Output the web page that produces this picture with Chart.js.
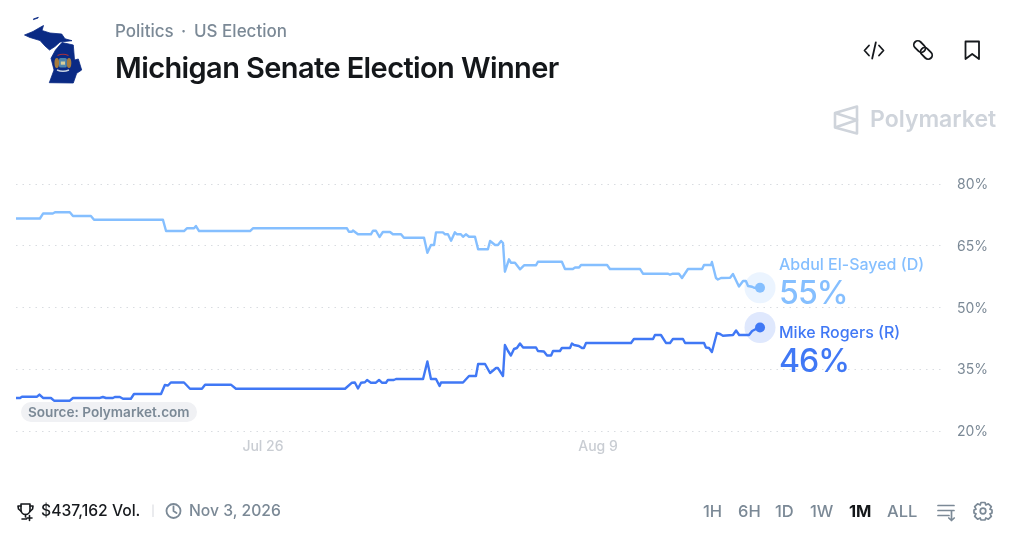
<!DOCTYPE html>
<html>
<head>
<meta charset="utf-8">
<title>Michigan Senate Election Winner</title>
<script src="https://cdn.jsdelivr.net/npm/chart.js@4"></script>
<style>
    html, body { margin: 0; padding: 0; background: #fff; overflow: hidden; }
    body { width: 1024px; height: 536px; position: relative; font-family: Inter, "Liberation Sans", sans-serif; }
    canvas, svg.overlay { position: absolute; left: 0; top: 0; }
    .txt { position: absolute; white-space: nowrap; line-height: 1; }
    .range { color: #7b8996; font-size: 16.5px; font-weight: 500; top: 503px; }
</style>
</head>
<body>
<canvas id="chart" width="1024" height="536"></canvas>

<svg class="overlay" width="1024" height="536" fill="none">
    <!-- Michigan -->
    <g fill="#0a2a84" stroke="#0a2a84" stroke-width="0.8" stroke-linejoin="round">
        <path d="M24.5 35 L33 31.5 L39 28 L43.5 25.5 L42 30.5 L50 33 L61.7 34 L65 38.8 L72 40.7 L60 42 L55 46.5 L49.5 50 L45 46 L40 40.5 L30 37.5 Z"/>
        <path d="M62 42.5 L73.3 45 L74.5 60 L78.3 59 L81.7 70 L76.7 73.3 L73.3 83 L49.3 82.7 L54 70 L51 58.3 L55.5 50 Z"/>
        <path d="M33.3 19 L38.3 17.3 L38 18 L33.5 19.6 Z"/>
    </g>
    <path stroke="#a8323f" stroke-width="1.1" d="M57.5 55.5 Q63 53 68.5 55.5"/>
    <ellipse cx="56.8" cy="63" rx="2.3" ry="5" fill="#a67c3d"/>
    <ellipse cx="69" cy="63" rx="2.3" ry="5" fill="#a67c3d"/>
    <rect x="59" y="58" width="7.8" height="9.5" rx="1.5" fill="#4f86ad"/>
    <rect x="60.8" y="61.5" width="4.2" height="3.2" fill="#d9cf9a"/>
    <path stroke="#c9d3e3" stroke-width="1.4" d="M57 70 Q63 72.5 69 70"/>

    <!-- header icons -->
    <g stroke="#16191d" stroke-width="1.8" stroke-linecap="round" stroke-linejoin="round">
        <path d="M869 45.5 L864.5 50.5 L869 55.5 M879 45.5 L883.5 50.5 L879 55.5 M875.8 42.5 L872.2 58.5"/>
        <rect x="-6.5" y="-4" width="13" height="8" rx="4" transform="translate(919.6 46.6) rotate(45)"/>
        <rect x="-6.5" y="-4" width="13" height="8" rx="4" transform="translate(926.4 53.4) rotate(45)"/>
        <path d="M965.5 59 L965.5 41.5 L979 41.5 L979 59 L972.2 54 Z"/>
    </g>

    <!-- Polymarket logo -->
    <g stroke="#cfd4db" stroke-width="2.6" stroke-linejoin="round">
        <path d="M857 106.5 L835 113 L835 127.5 L857 133.5 Z"/>
        <path d="M835 113 L857 120 L835 127.5"/>
    </g>

    <!-- footer icons -->
    <g stroke="#16191d" stroke-width="1.6" stroke-linecap="round" stroke-linejoin="round">
        <path d="M21 504 L30 504 L30 510 A4.5 4.5 0 0 1 21 510 Z"/>
        <path d="M21 506 L18 506 L18.5 509 L21.3 511.5 M30 506 L33 506 L32.6 509 L30 511.5"/>
        <path d="M25.5 514.5 L25.5 517 M22 519 L26.5 519 M29.5 515.5 L29.5 520.5 M27 518 L32 518"/>
    </g>
    <path stroke="#e3e5e8" stroke-width="1.5" d="M153 504.5 L153 517"/>
    <g stroke="#7b8996" stroke-width="1.8" stroke-linecap="round" stroke-linejoin="round">
        <circle cx="173.5" cy="511" r="7"/>
        <path d="M173.5 506.5 L173.5 511 L176.5 513"/>
    </g>
    <g stroke="#7b8996" stroke-width="1.7" stroke-linecap="round" stroke-linejoin="round">
        <path d="M938 505.5 L954 505.5 M938 510.5 L954 510.5 M938 515.5 L949 515.5 M951.5 510.5 L951.5 520.5 M948.8 518 L951.5 520.5 L954.2 518"/>
        <circle cx="983" cy="511" r="2.8"/>
        <path d="M981 502.5 L985 502.5 L985.8 505 L988.4 503.8 L991.3 506.6 L990 509.2 L992 510 L992 513 L990 513.8 L991.3 516.4 L988.4 519.2 L985.8 518 L985 520 L981 520 L980.2 518 L977.6 519.2 L974.7 516.4 L976 513.8 L974 513 L974 510 L976 509.2 L974.7 506.6 L977.6 503.8 L980.2 505 Z"/>
    </g>
</svg>

<div class="txt" style="left:115px;top:22.5px;font-size:17px;color:#7b8996;font-weight:500;">Politics</div>
<div class="txt" style="left:181px;top:22.5px;font-size:17px;color:#7b8996;font-weight:500;">·</div>
<div class="txt" style="left:194px;top:22.5px;font-size:17px;color:#7b8996;font-weight:500;">US Election</div>
<div class="txt" style="left:115px;top:53px;font-size:29px;letter-spacing:-0.6px;color:#14171a;font-weight:600;">Michigan Senate Election Winner</div>
<div class="txt" style="left:870px;top:108px;font-size:23px;color:#cfd4db;font-weight:600;">Polymarket</div>

<div class="txt" style="left:779px;top:255.5px;font-size:16px;color:#85bfff;font-weight:500;">Abdul El-Sayed (D)</div>
<div class="txt" style="left:779px;top:277px;font-size:32px;letter-spacing:-0.9px;color:#85bfff;font-weight:500;">55%</div>
<div class="txt" style="left:779px;top:323.5px;font-size:16px;color:#4078f5;font-weight:500;">Mike Rogers (R)</div>
<div class="txt" style="left:779px;top:345px;font-size:32px;letter-spacing:-0.9px;color:#4078f5;font-weight:500;">46%</div>

<div class="txt" style="left:21px;top:402px;height:20px;padding:0 7px;border-radius:10px;background:#f0f1f4;font-size:13.6px;line-height:20px;color:#7b8996;font-weight:600;">Source: Polymarket.com</div>

<div class="txt" style="left:41px;top:503px;font-size:15.7px;color:#16191d;font-weight:500;">$437,162 Vol.</div>
<div class="txt" style="left:189px;top:503px;font-size:15.7px;color:#7b8996;font-weight:500;">Nov 3, 2026</div>

<div class="txt range" style="left:703px;">1H</div>
<div class="txt range" style="left:738px;">6H</div>
<div class="txt range" style="left:775px;">1D</div>
<div class="txt range" style="left:810px;">1W</div>
<div class="txt range" style="left:849px;color:#14171a;font-weight:700;">1M</div>
<div class="txt range" style="left:887px;">ALL</div>

<script>
// days are counted from Jul 1 (Aug 9 = day 40)
const elSayedDays = [15.68, 16.68, 16.81, 17.22, 17.31, 17.93, 18.06, 18.81, 18.94, 21.82, 21.95, 22.70, 22.82, 23.12, 23.20, 23.33, 25.46, 25.58, 29.22, 29.51, 29.59, 29.72, 29.76, 29.97, 30.51, 30.60, 30.72, 30.87, 31.01, 31.31, 31.43, 31.77, 31.89, 32.73, 32.87, 33.02, 33.15, 33.23, 33.52, 33.61, 33.73, 33.86, 34.02, 34.11, 34.27, 34.36, 34.48, 34.61, 34.86, 34.99, 35.40, 35.49, 35.70, 35.82, 35.95, 36.03, 36.11, 36.28, 36.36, 36.53, 36.74, 36.91, 37.41, 37.49, 38.49, 38.62, 38.95, 39.04, 39.21, 39.29, 40.38, 40.50, 41.76, 41.88, 42.93, 43.01, 43.13, 43.38, 43.51, 43.76, 44.35, 44.43, 44.72, 44.76, 44.93, 45.01, 45.14, 45.52, 45.64, 45.89, 46.06, 46.18, 46.27, 46.44, 46.52, 46.77];
const elSayedPrices = [71.62, 71.62, 72.83, 72.83, 73.12, 73.12, 72.22, 72.22, 71.32, 71.32, 68.58, 68.58, 69.24, 69.24, 69.79, 68.58, 68.58, 69.24, 69.24, 69.24, 68.41, 68.41, 68.70, 67.78, 67.78, 68.65, 68.65, 67.12, 68.34, 68.34, 67.78, 67.78, 66.95, 66.95, 63.31, 65.18, 65.18, 68.26, 68.26, 67.78, 67.78, 66.22, 68.26, 67.78, 67.78, 67.19, 67.78, 67.19, 67.19, 64.14, 64.14, 66.15, 65.18, 65.18, 66.15, 65.67, 58.69, 61.71, 60.88, 60.88, 59.28, 60.25, 60.25, 61.12, 61.12, 59.35, 59.35, 59.71, 59.71, 60.32, 60.32, 59.35, 59.35, 58.21, 58.21, 57.96, 58.21, 58.21, 57.16, 59.35, 59.35, 60.32, 60.32, 61.05, 57.16, 56.80, 57.16, 57.24, 58.14, 55.10, 56.44, 56.44, 55.22, 55.05, 54.81, 54.81];

const rogersDays = [15.68, 15.85, 15.93, 16.56, 16.66, 16.81, 17.14, 17.27, 17.93, 18.06, 19.19, 19.31, 19.44, 19.73, 19.81, 20.02, 20.15, 20.48, 20.61, 21.74, 21.90, 22.03, 22.15, 22.70, 22.95, 23.45, 23.58, 24.66, 24.87, 29.43, 29.72, 29.84, 29.97, 30.10, 30.26, 30.35, 30.51, 30.72, 30.85, 30.97, 31.14, 31.22, 31.47, 31.56, 32.69, 32.87, 33.02, 33.23, 33.38, 33.44, 34.36, 34.61, 34.90, 34.99, 35.28, 35.49, 35.74, 35.82, 36.03, 36.11, 36.24, 36.36, 36.49, 36.61, 36.74, 36.87, 37.41, 37.49, 37.74, 37.87, 38.04, 38.12, 38.41, 38.49, 38.83, 38.91, 39.00, 39.20, 39.33, 39.41, 39.50, 41.38, 41.50, 42.30, 42.38, 42.63, 42.84, 43.01, 43.13, 43.55, 43.64, 44.43, 44.51, 44.64, 44.76, 44.97, 45.10, 45.22, 45.64, 45.77, 45.90, 46.31, 46.44, 46.60, 46.77];
const rogersPrices = [28.02, 28.02, 28.33, 28.33, 28.86, 28.02, 28.02, 27.36, 27.36, 28.02, 28.02, 28.26, 28.02, 28.02, 28.26, 28.26, 27.84, 27.84, 28.99, 28.99, 31.17, 31.05, 31.78, 31.78, 30.27, 30.27, 31.25, 31.25, 30.27, 30.27, 31.73, 31.78, 30.32, 31.73, 31.85, 32.39, 31.73, 31.73, 32.39, 31.73, 31.73, 32.39, 32.39, 32.63, 32.63, 36.88, 32.63, 32.63, 30.93, 31.78, 31.78, 33.36, 33.36, 36.27, 36.27, 34.09, 35.30, 35.30, 33.36, 40.89, 39.43, 38.34, 39.92, 40.16, 41.25, 40.28, 40.28, 39.43, 39.31, 38.34, 38.34, 39.43, 39.43, 40.16, 40.16, 41.25, 40.89, 40.65, 40.16, 40.16, 41.38, 41.38, 42.35, 42.35, 43.32, 43.32, 41.38, 41.38, 42.35, 42.35, 41.38, 41.38, 40.28, 40.16, 39.19, 43.80, 43.56, 43.15, 43.32, 44.41, 43.32, 43.32, 44.29, 44.78, 45.14];

const priceTicks = [20, 35, 50, 65, 80];
const dateTickDays = [26, 40];
const dateTickLabels = ["Jul 26", "Aug 9"];

const lightBlue = "#85bfff";
const blue = "#4078f5";
const gray = "#7b8996";

function toPoints(days, prices) {
    return days.map((d, i) => ({ x: d, y: prices[i] }));
}

const elSayedPoints = toPoints(elSayedDays, elSayedPrices);
const rogersPoints = toPoints(rogersDays, rogersPrices);

function lastPointRadius(size) {
    return ctx => ctx.dataIndex === ctx.dataset.data.length - 1 ? size : 0;
}

new Chart(document.getElementById("chart"), {
    type: "line",
    data: {
        datasets: [
            // halos behind the last points
            { order: 2, data: elSayedPoints.slice(-1), pointRadius: 15.5, pointBackgroundColor: "#ebf4ff", pointBorderWidth: 0, showLine: false },
            { order: 2, data: rogersPoints.slice(-1), pointRadius: 15.5, pointBackgroundColor: "#dfe8fd", pointBorderWidth: 0, showLine: false },
            { order: 1, label: "Abdul El-Sayed (D)", data: elSayedPoints, borderColor: lightBlue, pointBackgroundColor: lightBlue, pointRadius: lastPointRadius(5), pointBorderWidth: 0, borderWidth: 2.4, borderJoinStyle: "round" },
            { order: 1, label: "Mike Rogers (R)", data: rogersPoints, borderColor: blue, pointBackgroundColor: blue, pointRadius: lastPointRadius(5), pointBorderWidth: 0, borderWidth: 2.4, borderJoinStyle: "round" }
        ]
    },
    options: {
        responsive: false,
        animation: false,
        devicePixelRatio: 1,
        layout: { padding: { left: 16, top: 184, bottom: 75, right: 0 } },
        plugins: { legend: { display: false }, tooltip: { enabled: false } },
        scales: {
            x: {
                type: "linear",
                min: 15.68,
                max: 54.5,
                grid: { display: false, drawTicks: false },
                border: { display: false },
                afterBuildTicks: axis => { axis.ticks = dateTickDays.map(v => ({ value: v })); },
                afterFit: axis => { axis.height = 30; },
                ticks: {
                    autoSkip: false,
                    maxRotation: 0,
                    padding: 7,
                    color: "#c9cdd3",
                    font: { family: "Inter", size: 14, weight: "500" },
                    callback: v => dateTickLabels[dateTickDays.indexOf(v)]
                }
            },
            y: {
                position: "right",
                min: 20,
                max: 80,
                afterBuildTicks: axis => { axis.ticks = priceTicks.map(v => ({ value: v })); },
                afterFit: axis => { axis.width = 79; },
                grid: { color: "#d9dce1", lineWidth: 1, drawTicks: false },
                border: { display: false, dash: [1.5, 5] },
                ticks: {
                    padding: 12,
                    labelOffset: 1,
                    color: gray,
                    font: { family: "Inter", size: 14 },
                    callback: v => v + "%"
                }
            }
        }
    }
});
</script>
</body>
</html>
